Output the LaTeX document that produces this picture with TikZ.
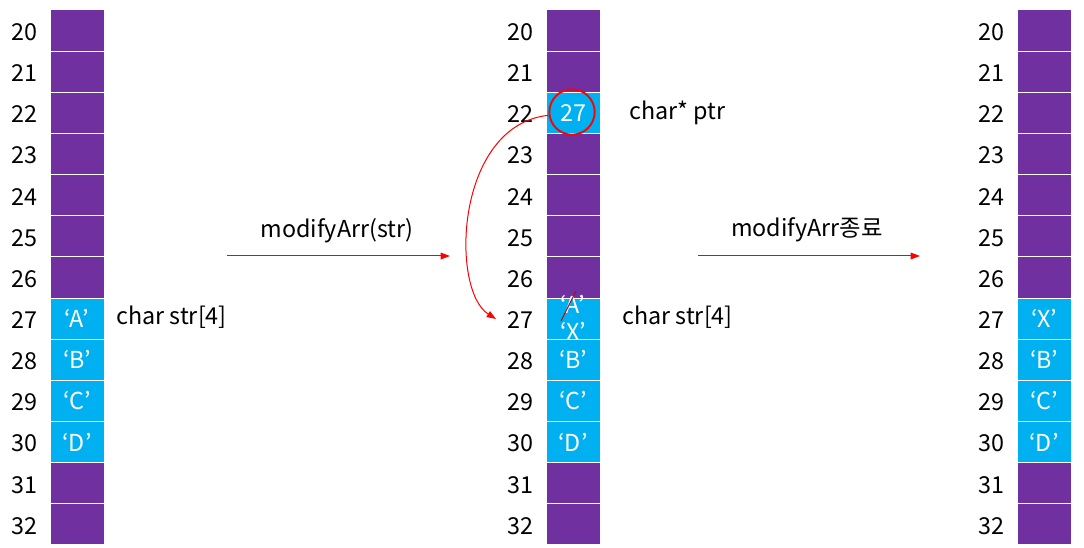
\documentclass[tikz,border=0pt]{standalone}
\usepackage{fontspec}
\setmainfont{Noto Sans CJK KR}
\usetikzlibrary{arrows.meta}
\definecolor{cpurple}{HTML}{7030A0}
\definecolor{cblue}{HTML}{00B0F0}
\definecolor{cred}{HTML}{FF0000}
\definecolor{cdark}{HTML}{A01010}
\newcommand\fsz{\fontsize{17.5}{19}\selectfont}
\tikzset{
  cell/.style={draw=white, line width=0.75pt, minimum width=40.5pt, minimum height=30.86pt, inner sep=0pt, text=white, font=\fsz},
  pcell/.style={cell, fill=cpurple},
  bcell/.style={cell, fill=cblue},
  num/.style={anchor=east, inner sep=0pt, font=\fsz},
  lbl/.style={anchor=west, inner sep=0pt, font=\fsz},
  txt/.style={inner sep=0pt, font=\fsz},
  flow/.style={draw=cred, line width=0.75pt, -{Triangle[length=7pt,width=5pt]}},
}
\begin{document}
\begin{tikzpicture}[x=0.75pt,y=-0.75pt]
\useasboundingbox (0,0) rectangle (1084,548);
\def\h{41.15}
% columns
\foreach \col/\cx/\nx in {1/77/38, 2/573/534, 3/1044/1005}{
  \foreach \i in {0,...,12}{
    \pgfmathsetmacro{\yy}{10+\h*(\i+0.5)}
    \pgfmathsetmacro{\ty}{\yy+1.5}
    \pgfmathtruncatemacro{\lab}{20+\i}
    \node[pcell] (c\col-\i) at (\cx,\yy) {};
    \node[num] (n\col-\i) at (\nx,\ty) {\lab};
  }
}
% blue cells column 1
\node[bcell] (c1-7b) at (c1-7) {‘A’};
\node[bcell] (c1-8b) at (c1-8) {‘B’};
\node[bcell] (c1-9b) at (c1-9) {‘C’};
\node[bcell] (c1-10b) at (c1-10) {‘D’};
% column 2
\node[bcell] (c2-2b) at (c2-2) {27};
\node[bcell] (c2-7b) at (c2-7) {};
\node[txt, text=white] (c2a) at (573,304) {‘A’};
\node[txt, text=white] (c2x) at (573,331) {‘X’};
\node[bcell] (c2-8b) at (c2-8) {‘B’};
\node[bcell] (c2-9b) at (c2-9) {‘C’};
\node[bcell] (c2-10b) at (c2-10) {‘D’};
% column 3
\node[bcell] (c3-7b) at (c3-7) {‘X’};
\node[bcell] (c3-8b) at (c3-8) {‘B’};
\node[bcell] (c3-9b) at (c3-9) {‘C’};
\node[bcell] (c3-10b) at (c3-10) {‘D’};
% labels
\node[lbl] (s1) at (116,317) {char str[4]};
\node[lbl] (s2) at (622,317) {char str[4]};
\node[lbl] (p2) at (629,113) {char* ptr};
\node[txt] (m1) at (337,231) {modifyArr(str)};
\node[txt] (m2) at (807,230) {modifyArr종료};
% arrows
\coordinate (a1s) at (227,256);
\coordinate (a1e) at (450,256);
\coordinate (a2s) at (698,256);
\coordinate (a2e) at (920,256);
\draw[flow] (a1s) -- (a1e);
\draw[flow] (a2s) -- (a2e);
% circle
\node[circle, draw=cred, line width=1.4pt, minimum size=34pt, inner sep=0pt] (circ) at (572,112) {};
\coordinate (pend) at (496,319);
\draw[flow] (circ.188) .. controls (455,125) and (450,290) .. (pend);
% strike
\draw[cdark, line width=0.75pt] (561,321) -- (576,291);
\end{tikzpicture}
\end{document}
